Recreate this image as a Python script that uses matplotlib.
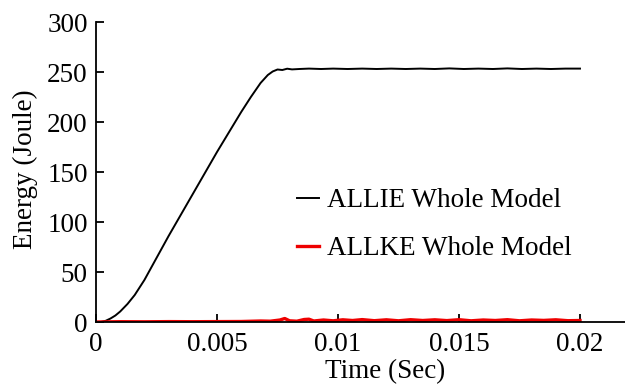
import matplotlib
matplotlib.use("Agg")
from matplotlib import pyplot as plt

# datos
t_ie = [0, 0.0002, 0.0004, 0.0006, 0.0008, 0.001, 0.0013, 0.0016, 0.002, 0.0025,
        0.003, 0.0035, 0.004, 0.0045, 0.005, 0.0055, 0.006, 0.0064, 0.0068,
        0.0071, 0.0073, 0.0075, 0.0077, 0.0079, 0.0081, 0.0084, 0.0088, 0.0093,
        0.0098, 0.0104, 0.011, 0.0116, 0.0122, 0.0128, 0.0134, 0.014, 0.0146,
        0.0152, 0.0158, 0.0164, 0.017, 0.0176, 0.0182, 0.0188, 0.0194, 0.02]
e_ie = [0, 0, 1.2, 3.5, 6.5, 10.5, 18, 27, 42, 64,
        86, 107, 128, 149, 170, 190, 210, 225, 239,
        247, 250.5, 252.5, 252, 253.3, 252.6, 253, 253.4, 253, 253.4, 253,
        253.4, 253, 253.4, 253, 253.4, 253, 253.6, 253, 253.4, 253, 253.6,
        253, 253.4, 253, 253.4, 253.4]

t_ke = [0, 0.001, 0.002, 0.003, 0.004, 0.005, 0.006, 0.0068, 0.0072, 0.0076,
        0.0078, 0.008, 0.0083, 0.0086, 0.0088, 0.009, 0.0094, 0.0098, 0.0102,
        0.0106, 0.011, 0.0115, 0.012, 0.0125, 0.013, 0.0135, 0.014, 0.0145,
        0.015, 0.0155, 0.016, 0.0165, 0.017, 0.0175, 0.018, 0.0185, 0.019, 0.0195, 0.02]
e_ke = [0, 0.3, 0.2, 0.4, 0.3, 0.4, 0.5, 1.0, 0.8, 2.0,
        3.5, 1.2, 0.8, 2.5, 2.8, 1.0, 2.0, 1.2, 2.2, 1.5,
        2.4, 1.3, 2.2, 1.2, 2.3, 1.5, 2.2, 1.4, 2.3, 1.2, 2.0, 1.5, 2.3, 1.2, 2.0, 1.6, 2.2, 1.3, 1.5]

labels = ["ALLIE Whole Model", "ALLKE Whole Model"]
x_ticks = [0, 0.005, 0.01, 0.015, 0.02]
x_tick_labels = ["0", "0.005", "0.01", "0.015", "0.02"]
y_ticks = [0, 50, 100, 150, 200, 250, 300]

plt.rcParams['font.family'] = ['Liberation Serif', 'DejaVu Serif']
fs = 19.5

fig = plt.figure(figsize=(6.25, 3.86), dpi=100)
ax = fig.add_axes([0.1536, 0.1658, 0.8464, 0.7772])

ax.plot(t_ie, e_ie, color='black', lw=1.4, label=labels[0])
ax.plot(t_ke, e_ke, color='#ee0000', lw=2.4, label=labels[1])

ax.set_xlim(0, 0.02186)
ax.set_ylim(0, 300)
ax.set_xticks(x_ticks)
ax.set_xticklabels(x_tick_labels)
ax.set_yticks(y_ticks)

for s in ('top', 'right'):
    ax.spines[s].set_visible(False)
for s in ('left', 'bottom'):
    ax.spines[s].set_linewidth(1.3)

ax.tick_params(direction='in', length=6, width=1.3, labelsize=fs)
ax.tick_params(axis='x', pad=7)
ax.tick_params(axis='y', pad=6)

ax.set_xlabel("Time (Sec)", fontsize=fs)
ax.xaxis.set_label_coords(0.546, -0.125)
ax.set_ylabel("Energy (Joule)", fontsize=fs)
ax.yaxis.set_label_coords(-0.11, 0.51)

ax.legend(loc='center left', bbox_to_anchor=(0.38, 0.325), frameon=False,
          fontsize=fs, handlelength=0.8, handletextpad=0.3,
          labelspacing=0.85, borderpad=0, borderaxespad=0)

fig.savefig("out.png", dpi=100)
